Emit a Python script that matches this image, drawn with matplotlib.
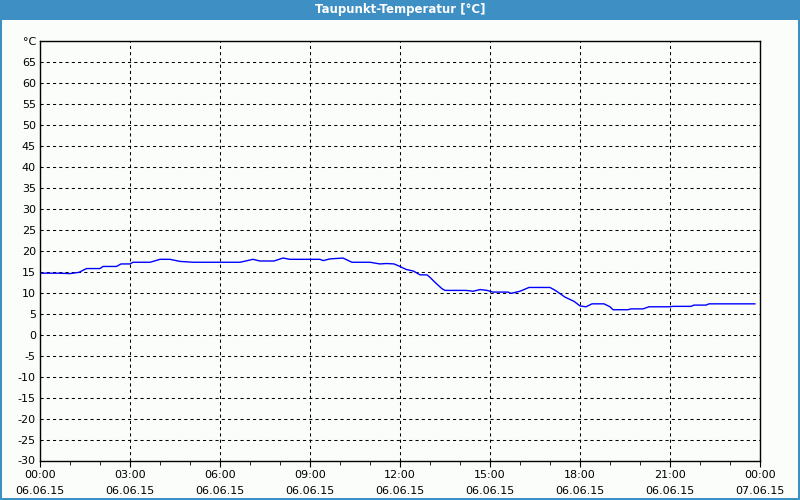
"""Taupunkt-Temperatur chart for 06.06.15, redrawn with matplotlib."""
import matplotlib

matplotlib.use("Agg")
import matplotlib.pyplot as plt
from matplotlib.patches import Rectangle

# hours since 06.06.15 00:00 and dew point in degC
hours = [0.0, 0.6, 1.0, 1.3, 1.55, 2.0, 2.1, 2.55, 2.7, 3.0, 3.1, 3.67, 4.0, 4.33,
         4.67, 5.1, 6.67, 7.1, 7.33, 7.8, 8.1, 8.33, 9.33, 9.44, 9.67, 10.1, 10.4,
         11.0, 11.33, 11.55, 11.8, 12.0, 12.2, 12.45, 12.67, 12.9, 13.0, 13.2, 13.4,
         13.5, 14.2, 14.44, 14.67, 14.9, 15.1, 15.6, 15.7, 16.0, 16.3, 17.0, 17.2,
         17.5, 17.8, 18.0, 18.2, 18.4, 18.8, 19.0, 19.1, 19.6, 19.7, 20.1, 20.3,
         21.0, 21.1, 21.7, 21.8, 22.2, 22.3, 23.83]
dew_point = [14.6, 14.6, 14.5, 14.8, 15.7, 15.7, 16.2, 16.2, 16.8, 16.8, 17.2, 17.2,
             17.9, 17.9, 17.4, 17.2, 17.2, 17.9, 17.5, 17.5, 18.2, 17.9, 17.9, 17.6,
             18.0, 18.2, 17.2, 17.2, 16.8, 16.9, 16.8, 16.2, 15.5, 15.1, 14.2, 14.2,
             13.6, 12.2, 10.9, 10.5, 10.5, 10.3, 10.7, 10.5, 10.1, 10.1, 9.8, 10.3,
             11.2, 11.2, 10.4, 8.9, 7.9, 6.8, 6.6, 7.3, 7.3, 6.6, 5.9, 5.9, 6.1, 6.1,
             6.6, 6.6, 6.7, 6.7, 7.0, 7.0, 7.3, 7.3]

x_ticks = [0, 3, 6, 9, 12, 15, 18, 21, 24]
x_labels = ["00:00\n06.06.15", "03:00\n06.06.15", "06:00\n06.06.15", "09:00\n06.06.15",
            "12:00\n06.06.15", "15:00\n06.06.15", "18:00\n06.06.15", "21:00\n06.06.15",
            "00:00\n07.06.15"]
y_ticks = list(range(-30, 75, 5))
y_labels = [str(v) for v in y_ticks[:-1]] + ["°C"]

BLUE = "#3d8fc4"
W, H = 800, 500

fig = plt.figure(figsize=(W / 100, H / 100), dpi=100)
fig.patch.set_facecolor(BLUE)
# white panel inside the blue frame, title bar on top
fig.patches.append(Rectangle((2 / W, 2 / H), (W - 4) / W, (H - 22) / H,
                             transform=fig.transFigure, facecolor="#fbfdfb",
                             edgecolor="none", zorder=-10))
fig.text(0.5, 1 - 10 / H, "Taupunkt-Temperatur [°C]", color="white",
         fontsize=8.5, fontweight="bold", ha="center", va="center")

ax = fig.add_axes([40 / W, 1 - 460.5 / H, 720 / W, 420 / H])
ax.set_facecolor("#fbfdfb")
ax.plot(hours, dew_point, color="#0000ff", lw=1.0)

ax.set_xlim(0, 24)
ax.set_ylim(-30, 70)
ax.set_xticks(x_ticks)
ax.set_xticklabels(x_labels, fontsize=8, linespacing=1.7)
ax.set_xticks(range(25), minor=True)
ax.set_yticks(y_ticks)
ax.set_yticklabels(y_labels, fontsize=8)
ax.tick_params(axis="y", length=0, pad=3)
ax.tick_params(axis="x", which="major", length=4, pad=3)
ax.tick_params(axis="x", which="minor", length=3)
ax.grid(True, which="major", color="black", ls=(0, (3, 3)), lw=0.75)
for sp in ax.spines.values():
    sp.set_linewidth(1.0)

fig.savefig("out.png", dpi=100, facecolor=fig.get_facecolor())
